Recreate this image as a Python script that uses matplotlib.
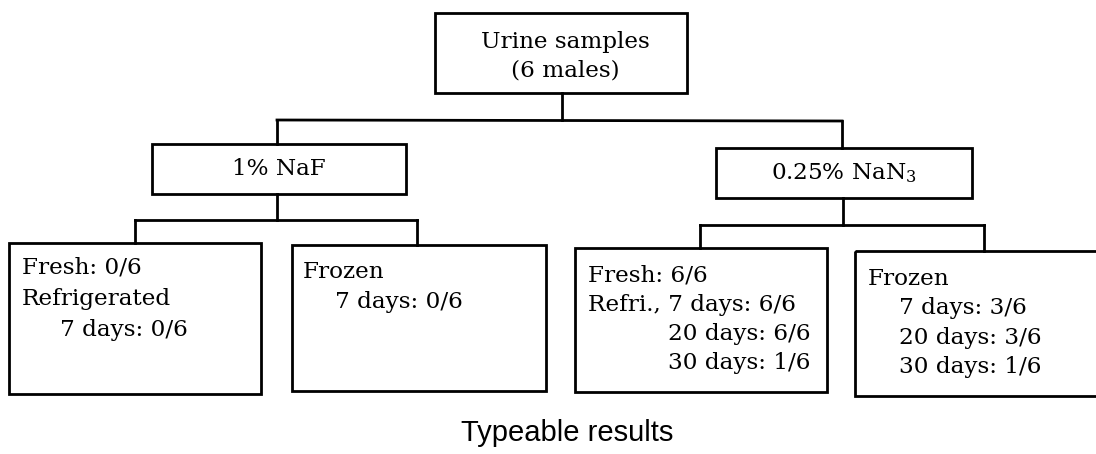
import matplotlib
matplotlib.use('Agg')
import matplotlib.pyplot as plt
from matplotlib.patches import Rectangle

plt.rcParams['mathtext.fontset'] = 'dejavuserif'

# ── DATA ──────────────────────────────────────────────────────
root_label    = ["Urine samples", "(6 males)"]
branch_labels = ["1% NaF", "0.25% NaN$_3$"]
leaf_lines = [
    ["Fresh: 0/6", "Refrigerated", "7 days: 0/6"],
    ["Frozen", "7 days: 0/6"],
    ["Fresh: 6/6", "Refri., 7 days: 6/6", "20 days: 6/6", "30 days: 1/6"],
    ["Frozen", "7 days: 3/6", "20 days: 3/6", "30 days: 1/6"],
]
caption = "Typeable results"

# ── LAYOUT (pixel space, y down) ──────────────────────────────
root_box   = (435, 13, 687, 93)
branch_box = [(152, 144, 406, 194), (716, 148, 972, 198)]
leaf_box   = [(9, 243, 261, 394), (292, 245, 546, 391),
              (575, 248, 827, 392), (855, 251, 1102, 396)]
leaf_x = [[22, 22, 60], [303, 335], [588, 588, 668, 668], [868, 899, 899, 899]]
leaf_y = [[268, 299, 330], [272, 302], [275, 305, 334, 363], [279, 308, 338, 367]]

SERIF = 'DejaVu Serif'
FS = 16.7
LW = 2.0

fig = plt.figure(figsize=(10.96, 4.54), dpi=100)
ax = fig.add_axes([0, 0, 1, 1])
ax.set_xlim(0, 1096)
ax.set_ylim(454, 0)
ax.axis('off')


def box(b):
    x0, y0, x1, y1 = b
    ax.add_patch(Rectangle((x0, y0), x1 - x0, y1 - y0, fill=False,
                           edgecolor='black', lw=LW))


def line(xs, ys):
    ax.plot(xs, ys, color='black', lw=LW, solid_capstyle='projecting')


# root
box(root_box)
ax.text(565, 42, root_label[0], ha='center', va='center', family=SERIF, fontsize=FS)
ax.text(565, 70, root_label[1], ha='center', va='center', family=SERIF, fontsize=FS)

# root -> branches
line([562, 562], [93, 120])
line([277, 842], [120, 121])
line([277, 277], [120, 144])
line([842, 842], [121, 148])

# branches
for b, lab in zip(branch_box, branch_labels):
    box(b)
    ax.text((b[0] + b[2]) / 2, (b[1] + b[3]) / 2, lab, ha='center', va='center',
            family=SERIF, fontsize=FS)

# branch -> leaves
line([277, 277], [194, 220])
line([135, 417], [220, 220])
line([135, 135], [220, 243])
line([417, 417], [220, 245])

line([843, 843], [198, 225])
line([700, 984], [225, 225])
line([700, 700], [225, 248])
line([984, 984], [225, 251])

# leaves
for b, lines, xs, ys in zip(leaf_box, leaf_lines, leaf_x, leaf_y):
    box(b)
    for t, x, y in zip(lines, xs, ys):
        ax.text(x, y, t, ha='left', va='center', family=SERIF, fontsize=FS)

ax.text(567, 433, caption, ha='center', va='center',
        family='Liberation Sans', fontsize=21)

fig.savefig('out.png', dpi=100, facecolor='white')
